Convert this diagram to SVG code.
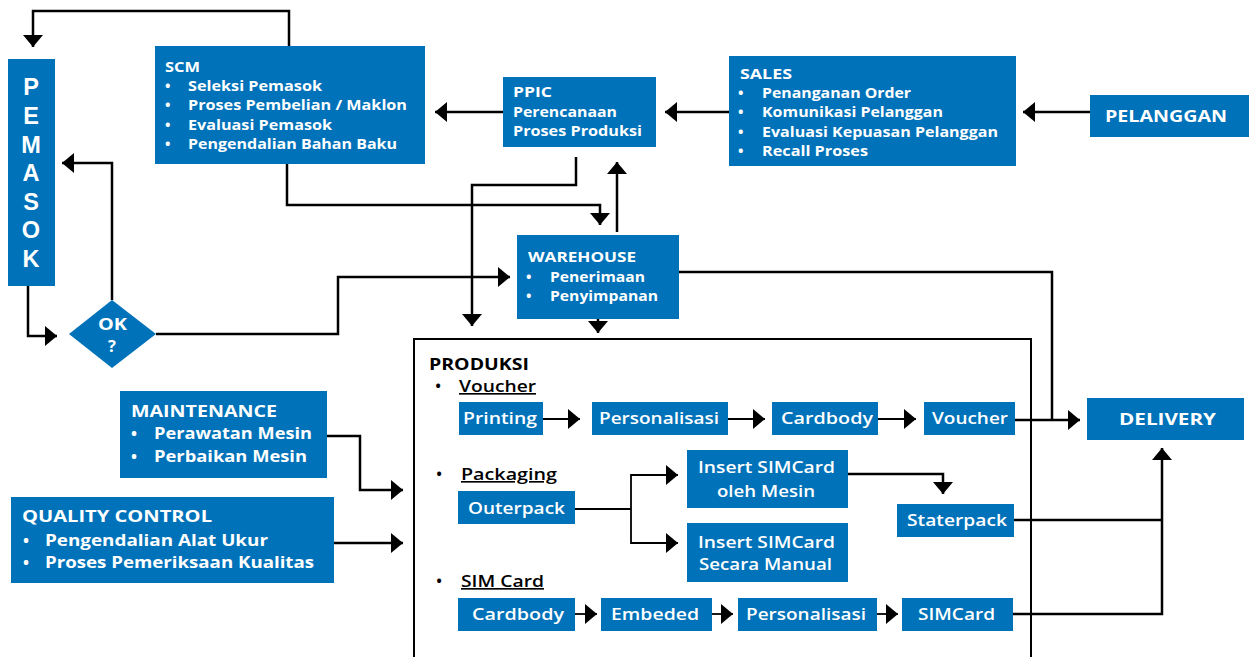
<svg xmlns="http://www.w3.org/2000/svg" width="1249" height="657" viewBox="0 0 1249 657">
<defs>
<style>
.box{fill:#0072BA}
.t{font-family:"Open Sans",Inter,"Liberation Sans",sans-serif;fill:#fff}
.bd{font-family:"Open Sans",Inter,"Liberation Sans",sans-serif;font-weight:700;fill:#fff}
.pl{font-family:"Liberation Sans",Arial,sans-serif;font-weight:700;font-size:23.5px;fill:#fff;text-anchor:middle}
.b14{font-size:14.5px}
.b16{font-size:16px}
.b17{font-size:16.5px}
.m17{font-size:16.5px;font-weight:600}
.mid{text-anchor:middle}
.k{fill:#000}
.c{fill:none;stroke:#000;stroke-width:2.5}
.ci{fill:none;stroke:#000;stroke-width:1.8}
</style>
<marker id="ah" markerUnits="userSpaceOnUse" markerWidth="12" markerHeight="20" viewBox="0 0 12 20" refX="12" refY="10" orient="auto">
<path d="M0,0 L12,10 L0,20 z" fill="#000"/>
</marker>
</defs>
<rect width="1249" height="657" fill="#fff"/>

<g id="connectors">
<path class="c" d="M289,46 V11 H33 V47" marker-end="url(#ah)"/>
<path class="c" d="M503,112 H435" marker-end="url(#ah)"/>
<path class="c" d="M729,112 H665" marker-end="url(#ah)"/>
<path class="c" d="M1090,112 H1023" marker-end="url(#ah)"/>
<path class="c" d="M576,157 V185 H472 V326" marker-end="url(#ah)"/>
<path class="c" d="M287,164 V205 H600 V225" marker-end="url(#ah)"/>
<path class="c" d="M617,232 V162" marker-end="url(#ah)"/>
<path class="c" d="M598,319 V333" marker-end="url(#ah)"/>
<path class="c" d="M679,272 H1052 V420"/>
<path class="c" d="M1015,420 H1080" marker-end="url(#ah)"/>
<path class="c" d="M28,286 V336 H57" marker-end="url(#ah)"/>
<path class="c" d="M112,300 V163 H62" marker-end="url(#ah)"/>
<path class="c" d="M156,334 H338 V277 H510" marker-end="url(#ah)"/>
<path class="c" d="M327,436 H360 V490 H403" marker-end="url(#ah)"/>
<path class="c" d="M334,543 H403" marker-end="url(#ah)"/>
<path class="ci" d="M543,419 H580" marker-end="url(#ah)"/>
<path class="ci" d="M728,419 H765" marker-end="url(#ah)"/>
<path class="ci" d="M878,419 H916" marker-end="url(#ah)"/>
<path class="ci" d="M575,509 H631"/>
<path class="ci" d="M631,509 V475 H678" marker-end="url(#ah)"/>
<path class="ci" d="M631,509 V543 H678" marker-end="url(#ah)"/>
<path class="c" d="M848,474 H943 V494" marker-end="url(#ah)"/>
<path class="c" d="M1014,520 H1162"/>
<path class="c" d="M1013,614 H1162 V448" marker-end="url(#ah)"/>
<path class="ci" d="M575,614 H597" marker-end="url(#ah)"/>
<path class="ci" d="M712,614 H733" marker-end="url(#ah)"/>
<path class="ci" d="M877,614 H898" marker-end="url(#ah)"/>
</g>

<g id="produksi">
<rect x="414" y="339" width="617" height="340" fill="none" stroke="#000" stroke-width="2"/>
<text class="bd b17 k" x="429" y="370" textLength="100" lengthAdjust="spacingAndGlyphs">PRODUKSI</text>
<text class="bd m17 k" x="435" y="392">•</text>
<text class="t m17 k" x="459" y="392" text-decoration="underline" textLength="77" lengthAdjust="spacingAndGlyphs">Voucher</text>
<text class="bd m17 k" x="436" y="480">•</text>
<text class="t m17 k" x="461" y="480" text-decoration="underline" textLength="96" lengthAdjust="spacingAndGlyphs">Packaging</text>
<text class="bd m17 k" x="436" y="587">•</text>
<text class="t m17 k" x="461" y="587" text-decoration="underline" textLength="83" lengthAdjust="spacingAndGlyphs">SIM Card</text>
</g>

<g id="pemasok">
<rect class="box" x="8" y="59" width="47" height="227"/>
<text class="pl" x="31" y="94.5">P</text>
<text class="pl" x="31" y="123.5">E</text>
<text class="pl" x="31" y="152.5">M</text>
<text class="pl" x="31" y="181">A</text>
<text class="pl" x="31" y="209.5">S</text>
<text class="pl" x="31" y="238">O</text>
<text class="pl" x="31" y="266.5">K</text>
</g>

<g id="scm">
<rect class="box" x="155" y="46" width="270" height="118"/>
<text class="bd b14" x="165" y="72" textLength="35" lengthAdjust="spacingAndGlyphs">SCM</text>
<text class="bd b14" x="165" y="91">•</text><text class="bd b14" x="188" y="91" textLength="134" lengthAdjust="spacingAndGlyphs">Seleksi Pemasok</text>
<text class="bd b14" x="165" y="110">•</text><text class="bd b14" x="188" y="110" textLength="219" lengthAdjust="spacingAndGlyphs">Proses Pembelian / Maklon</text>
<text class="bd b14" x="165" y="129.5">•</text><text class="bd b14" x="188" y="129.5" textLength="144" lengthAdjust="spacingAndGlyphs">Evaluasi Pemasok</text>
<text class="bd b14" x="165" y="149">•</text><text class="bd b14" x="188" y="149" textLength="209" lengthAdjust="spacingAndGlyphs">Pengendalian Bahan Baku</text>
</g>

<g id="ppic">
<rect class="box" x="503" y="77" width="153" height="70"/>
<text class="bd b14" x="513" y="97" textLength="39" lengthAdjust="spacingAndGlyphs">PPIC</text>
<text class="bd b14" x="513" y="117" textLength="104" lengthAdjust="spacingAndGlyphs">Perencanaan</text>
<text class="bd b14" x="513" y="136" textLength="129" lengthAdjust="spacingAndGlyphs">Proses Produksi</text>
</g>

<g id="sales">
<rect class="box" x="729" y="56" width="287" height="110"/>
<text class="bd b14" x="740" y="79" textLength="52" lengthAdjust="spacingAndGlyphs">SALES</text>
<text class="bd b14" x="738" y="98">•</text><text class="bd b14" x="762" y="98" textLength="149" lengthAdjust="spacingAndGlyphs">Penanganan Order</text>
<text class="bd b14" x="738" y="117">•</text><text class="bd b14" x="762" y="117" textLength="181" lengthAdjust="spacingAndGlyphs">Komunikasi Pelanggan</text>
<text class="bd b14" x="738" y="137">•</text><text class="bd b14" x="762" y="137" textLength="236" lengthAdjust="spacingAndGlyphs">Evaluasi Kepuasan Pelanggan</text>
<text class="bd b14" x="738" y="156">•</text><text class="bd b14" x="762" y="156" textLength="106" lengthAdjust="spacingAndGlyphs">Recall Proses</text>
</g>

<g id="pelanggan">
<rect class="box" x="1090" y="95" width="159" height="42"/>
<text class="bd b17 mid" x="1166" y="122" textLength="122" lengthAdjust="spacingAndGlyphs">PELANGGAN</text>
</g>

<g id="warehouse">
<rect class="box" x="517" y="235" width="162" height="84"/>
<text class="bd b14" x="528" y="262" textLength="108" lengthAdjust="spacingAndGlyphs">WAREHOUSE</text>
<text class="bd b14" x="526" y="282">•</text><text class="bd b14" x="550" y="282" textLength="95" lengthAdjust="spacingAndGlyphs">Penerimaan</text>
<text class="bd b14" x="526" y="301">•</text><text class="bd b14" x="550" y="301" textLength="108" lengthAdjust="spacingAndGlyphs">Penyimpanan</text>
</g>

<g id="ok">
<polygon class="box" points="112,300 156,334 112,368 69,334"/>
<text class="bd mid" x="112.5" y="330" style="font-size:16.5px" textLength="29" lengthAdjust="spacingAndGlyphs">OK</text>
<text class="bd mid" x="112" y="352" style="font-size:16.5px">?</text>
</g>

<g id="maintenance">
<rect class="box" x="120" y="391" width="207" height="87"/>
<text class="bd b16" x="131" y="417" textLength="146" lengthAdjust="spacingAndGlyphs">MAINTENANCE</text>
<text class="bd b16" x="131" y="439">•</text><text class="bd b16" x="154" y="439" textLength="158" lengthAdjust="spacingAndGlyphs">Perawatan Mesin</text>
<text class="bd b16" x="131" y="462">•</text><text class="bd b16" x="154" y="462" textLength="153" lengthAdjust="spacingAndGlyphs">Perbaikan Mesin</text>
</g>

<g id="quality-control">
<rect class="box" x="11" y="497" width="323" height="86"/>
<text class="bd b16" x="22" y="522" textLength="190" lengthAdjust="spacingAndGlyphs">QUALITY CONTROL</text>
<text class="bd b16" x="23" y="546">•</text><text class="bd b16" x="45" y="546" textLength="223" lengthAdjust="spacingAndGlyphs">Pengendalian Alat Ukur</text>
<text class="bd b16" x="23" y="568">•</text><text class="bd b16" x="45" y="568" textLength="269" lengthAdjust="spacingAndGlyphs">Proses Pemeriksaan Kualitas</text>
</g>

<g id="printing"><rect class="box" x="459" y="402" width="84" height="33"/><text class="t m17 mid" x="500" y="424" textLength="74" lengthAdjust="spacingAndGlyphs">Printing</text></g>
<g id="personalisasi-v"><rect class="box" x="592" y="402" width="136" height="33"/><text class="t m17 mid" x="659" y="424" textLength="120" lengthAdjust="spacingAndGlyphs">Personalisasi</text></g>
<g id="cardbody-v"><rect class="box" x="772" y="402" width="106" height="33"/><text class="t m17 mid" x="827" y="424" textLength="92" lengthAdjust="spacingAndGlyphs">Cardbody</text></g>
<g id="voucher"><rect class="box" x="924" y="402" width="91" height="33"/><text class="t m17 mid" x="970" y="424" textLength="76" lengthAdjust="spacingAndGlyphs">Voucher</text></g>

<g id="outerpack"><rect class="box" x="458" y="491" width="117" height="33"/><text class="t m17 mid" x="516.5" y="514" textLength="97" lengthAdjust="spacingAndGlyphs">Outerpack</text></g>
<g id="insert-mesin"><rect class="box" x="687" y="450" width="161" height="58"/><text class="t m17 mid" x="766.5" y="473" textLength="137" lengthAdjust="spacingAndGlyphs">Insert SIMCard</text><text class="t m17 mid" x="766" y="497" textLength="98" lengthAdjust="spacingAndGlyphs">oleh Mesin</text></g>
<g id="insert-manual"><rect class="box" x="687" y="523" width="161" height="59"/><text class="t m17 mid" x="766.5" y="548" textLength="137" lengthAdjust="spacingAndGlyphs">Insert SIMCard</text><text class="t m17 mid" x="765.5" y="570" textLength="133" lengthAdjust="spacingAndGlyphs">Secara Manual</text></g>
<g id="staterpack"><rect class="box" x="897" y="504" width="117" height="33"/><text class="t m17 mid" x="957" y="526" textLength="100" lengthAdjust="spacingAndGlyphs">Staterpack</text></g>

<g id="cardbody-s"><rect class="box" x="458" y="598" width="117" height="33"/><text class="t m17 mid" x="518" y="620" textLength="92" lengthAdjust="spacingAndGlyphs">Cardbody</text></g>
<g id="embeded"><rect class="box" x="601" y="598" width="111" height="33"/><text class="t m17 mid" x="655" y="620" textLength="88" lengthAdjust="spacingAndGlyphs">Embeded</text></g>
<g id="personalisasi-s"><rect class="box" x="738" y="598" width="139" height="33"/><text class="t m17 mid" x="806" y="620" textLength="120" lengthAdjust="spacingAndGlyphs">Personalisasi</text></g>
<g id="simcard"><rect class="box" x="902" y="598" width="111" height="33"/><text class="t m17 mid" x="956.5" y="620" textLength="77" lengthAdjust="spacingAndGlyphs">SIMCard</text></g>

<g id="delivery">
<rect class="box" x="1087" y="398" width="157" height="42"/>
<text class="bd b17 mid" x="1167.5" y="425" textLength="97" lengthAdjust="spacingAndGlyphs">DELIVERY</text>
</g>
</svg>
